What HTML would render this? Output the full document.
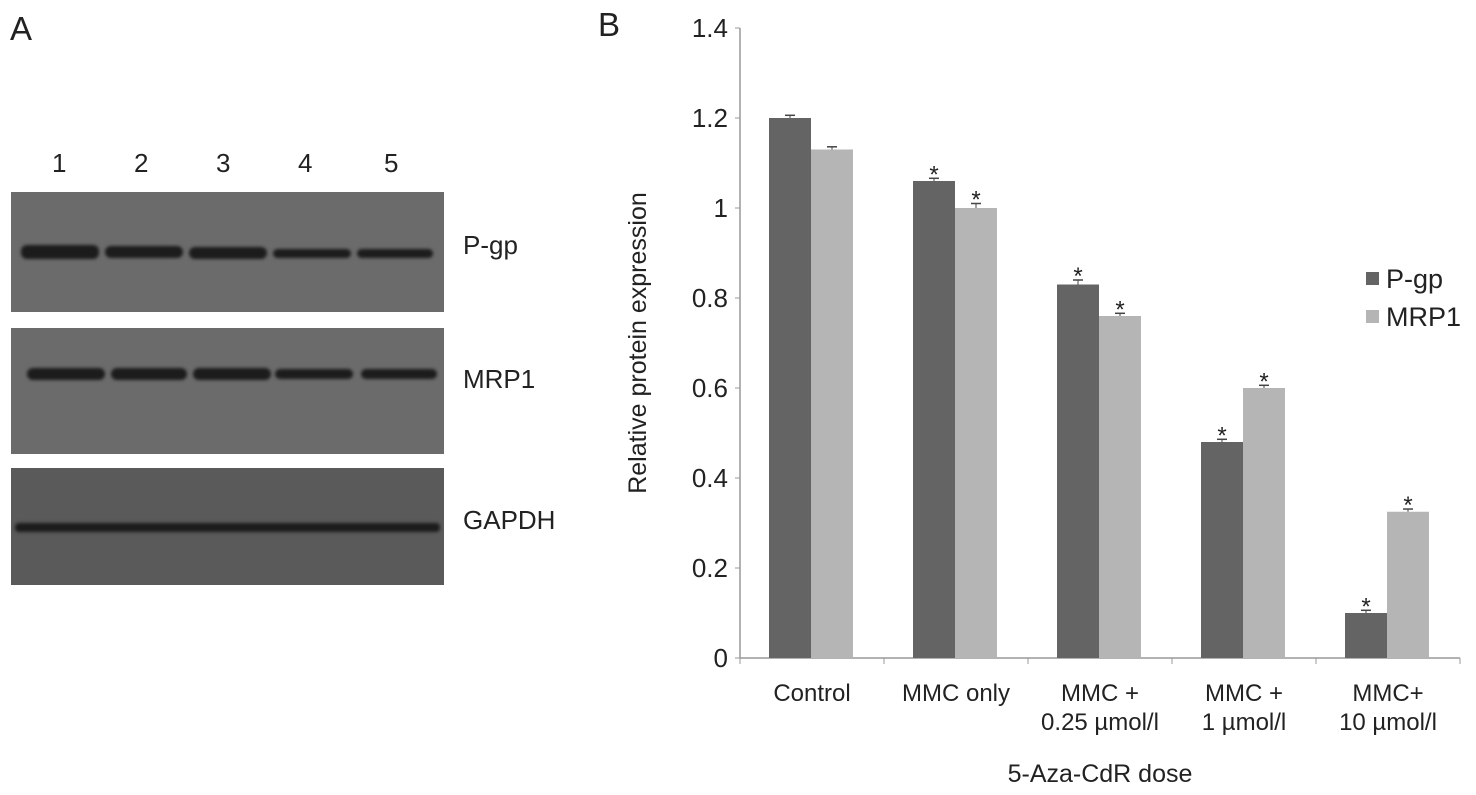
<!DOCTYPE html>
<html><head><meta charset="utf-8"><style>
body{margin:0;width:1476px;height:795px;background:#fff;overflow:hidden;font-family:"Liberation Sans",sans-serif;position:relative}
.t{position:absolute;color:#222}
.blot{position:absolute;left:11px;width:433px;background:#6b6b6b}
.band{position:absolute;height:12px;border-radius:6px;background:#1c1c1c;filter:blur(1.5px)}
</style></head><body>
<div class="t" style="left:10px;top:10px;font-size:33px">A</div>
<div class="t" style="left:598px;top:6px;font-size:33px">B</div>
<div>
<div class="t" style="left:52px;top:148px;font-size:26px">1</div>
<div class="t" style="left:134px;top:148px;font-size:26px">2</div>
<div class="t" style="left:216px;top:148px;font-size:26px">3</div>
<div class="t" style="left:298px;top:148px;font-size:26px">4</div>
<div class="t" style="left:384px;top:148px;font-size:26px">5</div>
</div>
<div class="blot" style="top:192px;height:120px">
<div class="band" style="left:10px;top:53px;width:78px;height:14px"></div>
<div class="band" style="left:94px;top:54px;width:78px"></div>
<div class="band" style="left:178px;top:55px;width:78px"></div>
<div class="band" style="left:262px;top:57px;width:78px;height:9px"></div>
<div class="band" style="left:346px;top:57px;width:76px;height:9px"></div>
</div>
<div class="blot" style="top:328px;height:126px">
<div class="band" style="left:16px;top:40px;width:78px"></div>
<div class="band" style="left:100px;top:40px;width:76px"></div>
<div class="band" style="left:182px;top:40px;width:78px"></div>
<div class="band" style="left:264px;top:41px;width:78px;height:10px"></div>
<div class="band" style="left:350px;top:41px;width:76px;height:10px"></div>
</div>
<div class="blot" style="top:468px;height:117px;background:#5a5a5a">
<div class="band" style="left:4px;top:55px;width:425px;height:9px;border-radius:4px"></div>
</div>
<div class="t" style="left:463px;top:230px;font-size:26px">P-gp</div>
<div class="t" style="left:463px;top:364px;font-size:26px">MRP1</div>
<div class="t" style="left:463px;top:505px;font-size:26px">GAPDH</div>
<svg id="chart" width="1476" height="795" style="position:absolute;left:0;top:0" font-family="Liberation Sans, sans-serif"></svg>
<script>
const categories=[["Control"],["MMC only"],["MMC +","0.25 µmol/l"],["MMC +","1 µmol/l"],["MMC+","10 µmol/l"]];
const pgp=[1.2,1.06,0.83,0.48,0.1];
const mrp1=[1.13,1.0,0.76,0.6,0.325];
const pgpErr=[0.006,0.006,0.01,0.006,0.006];
const mrp1Err=[0.006,0.01,0.006,0.006,0.006];
const pgpStar=[false,true,true,true,true];
const mrp1Star=[false,true,true,true,true];
const yTicks=[0,0.2,0.4,0.6,0.8,1,1.2,1.4];
const svg=document.getElementById('chart');
const NS='http://www.w3.org/2000/svg';
const x0=740,cw=144,y0=658,k=450;
const Y=v=>y0-v*k;
function mk(t,a,p){const e=document.createElementNS(NS,t);for(const q in a)e.setAttribute(q,a[q]);(p||svg).appendChild(e);return e;}
const ax=mk('line',{x1:x0,y1:Y(1.4),x2:x0,y2:y0,stroke:'#999','stroke-width':1.5});


const xa=mk('line',{x1:x0,y1:y0,x2:x0+cw*5,y2:y0,stroke:'#999','stroke-width':1.5});


yTicks.forEach(v=>{
 mk('line',{x1:x0-5,x2:x0,y1:Y(v),y2:Y(v),stroke:'#999'});
 const t=mk('text',{x:x0-12,y:Y(v)+9,'text-anchor':'end','font-size':26,fill:'#222'});t.textContent=String(v);
 
 
});
for(let i=0;i<=5;i++)mk('line',{x1:x0+i*cw,x2:x0+i*cw,y1:y0,y2:y0+6,stroke:'#999'});
function bar(i,v,err,star,off,col,name){
 const bx=x0+i*cw+off,w=42;
 const r=mk('rect',{x:bx,y:Y(v),width:w,height:v*k,fill:col});
 
 
 const cx=bx+w/2;
 mk('line',{x1:cx,x2:cx,y1:Y(v+err),y2:Y(v),stroke:'#444'});
 mk('line',{x1:cx-5,x2:cx+5,y1:Y(v+err),y2:Y(v+err),stroke:'#444','stroke-width':1.5});
 if(star){const s=mk('text',{x:cx,y:Y(v+err)+4,'text-anchor':'middle','font-size':24,fill:'#222'});s.textContent='*';}
}
categories.forEach((c,i)=>{
 bar(i,pgp[i],pgpErr[i],pgpStar[i],29,'#646464','pgp');
 bar(i,mrp1[i],mrp1Err[i],mrp1Star[i],71,'#b5b5b5','mrp1');
 c.forEach((ln,j)=>{const t=mk('text',{x:x0+i*cw+cw/2,y:701+j*29,'text-anchor':'middle','font-size':24,fill:'#222'});t.textContent=ln;
 
 });
});
const yt=mk('text',{x:0,y:0,'text-anchor':'middle','font-size':25,fill:'#222',transform:'translate(646,343) rotate(-90)'});yt.textContent='Relative protein expression';


const xt=mk('text',{x:1100,y:782,'text-anchor':'middle','font-size':25,fill:'#222'});xt.textContent='5-Aza-CdR dose';


[['P-gp','#646464',285],['MRP1','#b5b5b5',323]].forEach(([n,c,y])=>{
 const g=mk('g',{});
 
 
 mk('rect',{x:1366,y:y-13,width:13,height:13,fill:c},g);
 const t=mk('text',{x:1386,y:y+3,'font-size':27,fill:'#222'},g);t.textContent=n;
});
</script>
</body></html>
